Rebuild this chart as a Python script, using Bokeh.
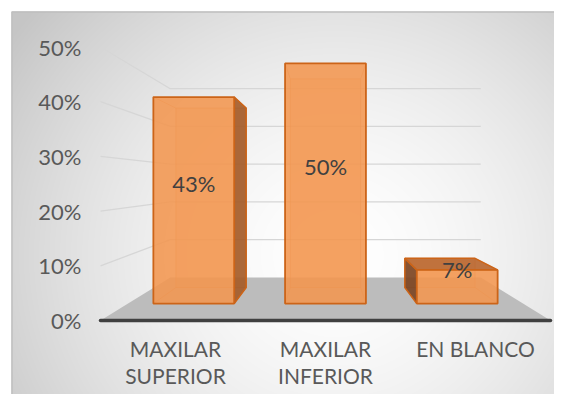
import numpy as np
from bokeh.plotting import figure
from bokeh.models import Range1d
from bokeh.core.properties import value
from bokeh.embed import file_html
from bokeh.resources import INLINE

# ---------------- data ----------------
categories = ["MAXILAR\nSUPERIOR", "MAXILAR\nINFERIOR", "EN BLANCO"]
values = [43, 50, 7]
data_labels = ["43%", "50%", "7%"]
y_ticks = [0, 10, 20, 30, 40, 50]
y_tick_labels = ["0%", "10%", "20%", "30%", "40%", "50%"]

# ---------------- layout constants ----------------
PX0, PXU = 100.0, 150.0     # page x of the front-left corner, px per category
PY0, PYU = 320.0, 5.47      # page y of 0 %, px per percent
W, H, OFF = 554, 394, 0


def dx(px):
    return (px - PX0) / PXU


def dy(py):
    return (PY0 - py) / PYU


n = len(categories)
XV, YV = n / 2.0, dy(181)          # vanishing point (data units)
KF, KB, KW = 0.878, 0.763, 0.69   # depth scale: bar front, bar back, back wall
HW = 0.307                        # half bar width (category units)


def P(x, y, k):
    return XV + (x - XV) * k, YV + (y - YV) * k


def poly(pts):
    return [q[0] for q in pts], [q[1] for q in pts]


p = figure(width=W, height=H,
           x_range=Range1d(dx(OFF), dx(OFF + W)),
           y_range=Range1d(dy(OFF + H), dy(OFF)),
           x_axis_type=None, y_axis_type=None,
           output_backend="svg", toolbar_location=None, min_border=0)
p.outline_line_color = None
p.background_fill_color = "white"
p.border_fill_color = "white"

# ---------------- radial background ----------------
gx0, gx1, gy0, gy1 = 11, OFF + W, 11, OFF + H
cols = gx0 + np.arange(gx1 - gx0) + 0.5
rows = gy1 - (np.arange(gy1 - gy0) + 0.5)
XX, YY = np.meshgrid(cols, rows)
r = np.sqrt((XX - 335.0) ** 2 + ((YY - 255.0) * 1.05) ** 2)
g = 255 - 58 * np.clip(r / 400.0, 0, 1) ** 1.6
img = np.empty((len(rows), len(cols), 4), dtype=np.uint8)
img[..., 0] = g
img[..., 1] = g
img[..., 2] = g
img[..., 3] = 255
img32 = img.view(dtype=np.uint32).reshape(len(rows), len(cols))
p.image_rgba(image=[img32], x=dx(gx0), y=dy(gy1),
             dw=dx(gx1) - dx(gx0), dh=dy(gy0) - dy(gy1))
p.line([dx(11.5), dx(11.5), dx(gx1)], [dy(gy1), dy(11.5), dy(11.5)],
       line_color="#bfbfbf", line_width=1.5)

# ---------------- floor, walls ----------------
fx, fy = poly([P(0, 0, 1), P(n, 0, 1), P(n, 0, KW), P(0, 0, KW)])
p.patch(fx, fy, fill_color="#bcbcbc", line_color=None)

gxs, gys = [], []
for t in y_ticks[1:]:
    a, b, c = P(0, t, 1), P(0, t, KW), P(n, t, KW)
    gxs.append([a[0], b[0], c[0]])
    gys.append([a[1], b[1], c[1]])
p.multi_line(gxs, gys, line_color="#d6d6d6", line_width=1.3)

p.line([0, n], [0, 0], line_color="#404040", line_width=3.5, line_cap="round")

# ---------------- bars ----------------
ORANGE = "#F39650"
EDGE = "#CC6418"
for i, v in enumerate(values):
    c = i + 0.5
    x0, x1 = c - HW, c + HW
    # back face and hidden edges
    bx, by = poly([P(x0, 0, KB), P(x1, 0, KB), P(x1, v, KB), P(x0, v, KB)])
    p.patch(bx, by, fill_color=ORANGE, fill_alpha=0.2, line_color=EDGE,
            line_alpha=0.35, line_width=1)
    exs, eys = [], []
    for (ex, ey) in [(x0, 0), (x1, 0), (x0, v), (x1, v)]:
        a, b = P(ex, ey, KF), P(ex, ey, KB)
        exs.append([a[0], b[0]])
        eys.append([a[1], b[1]])
    p.multi_line(exs, eys, line_color=EDGE, line_alpha=0.35, line_width=1)
    # visible side face
    if c < XV:
        sx = x1
        side_col = "#a35a27"
    elif c > XV:
        sx = x0
        side_col = "#7a4320"
    else:
        sx = None
    if sx is not None:
        qx, qy = poly([P(sx, 0, KF), P(sx, v, KF), P(sx, v, KB), P(sx, 0, KB)])
        p.patch(qx, qy, fill_color=side_col, fill_alpha=0.9,
                line_color=EDGE, line_width=1.5)
    # visible top face
    if v < YV:
        tx, ty = poly([P(x0, v, KF), P(x1, v, KF), P(x1, v, KB), P(x0, v, KB)])
        p.patch(tx, ty, fill_color="#b9652c", fill_alpha=0.9,
                line_color=EDGE, line_width=1.5)
    # front face
    fx, fy = poly([P(x0, 0, KF), P(x1, 0, KF), P(x1, v, KF), P(x0, v, KF)])
    p.patch(fx, fy, fill_color=ORANGE, fill_alpha=0.88,
            line_color=EDGE, line_width=1.8)

# ---------------- texts ----------------
FONT = value("Lato")
p.text(x=[dx(81)] * len(y_ticks), y=y_ticks, text=y_tick_labels,
       text_align="right", text_baseline="middle", text_font=FONT,
       text_font_size="22px", text_color="#595959")

p.text(x=[i + 0.5 for i in range(n)], y=[dy(335)] * n, text=categories,
       text_align="center", text_baseline="top", text_font=FONT,
       text_font_size="21px", text_color="#595959", text_line_height=1.1)

lx, ly = [], []
for i, v in enumerate(values):
    q = P(i + 0.5, v / 2.0 + 3.5, KF)
    lx.append(q[0])
    ly.append(q[1])
p.text(x=lx, y=ly, text=data_labels, text_align="center",
       text_baseline="middle", text_font=FONT, text_font_size="22px",
       text_color="#404040")

open("out.html", "w").write(file_html(p, INLINE))
